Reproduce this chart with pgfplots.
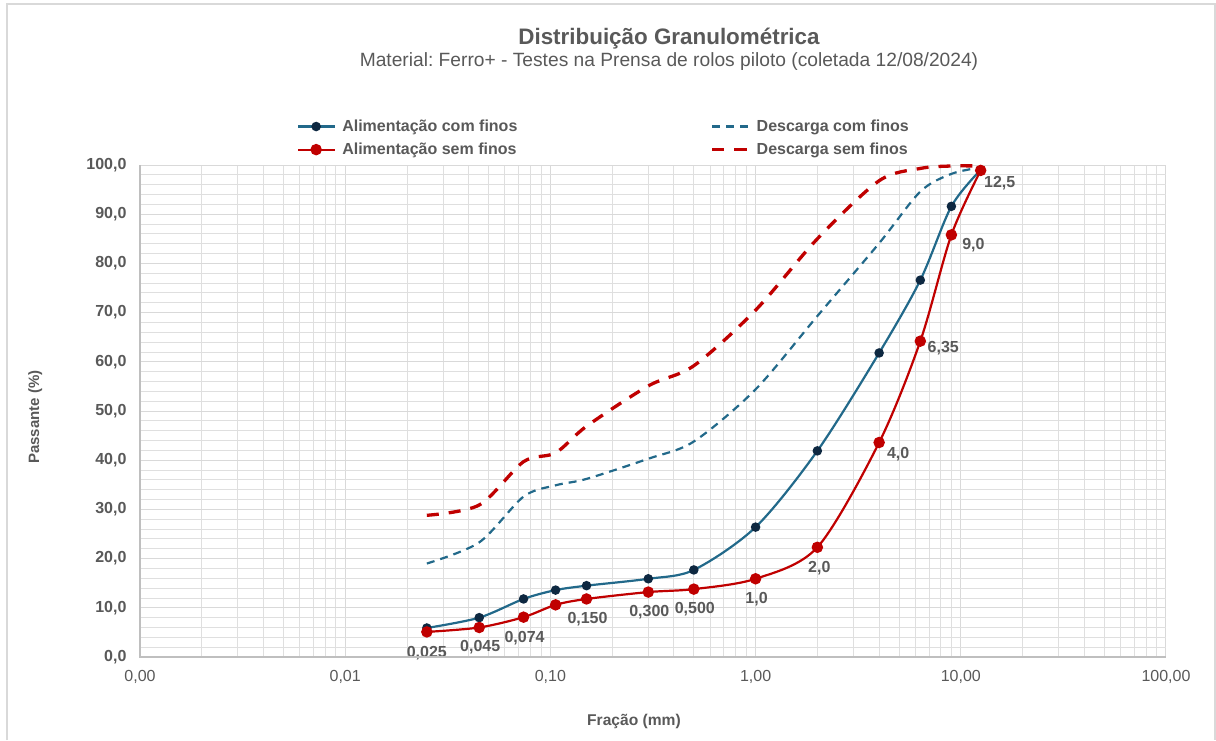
\documentclass[border=0pt]{standalone}
\usepackage{pgfplots}
\pgfplotsset{compat=1.18}
\usepackage{pgfplotstable}
\usepackage{fontspec}
\setmainfont{Liberation Sans}
\frenchspacing

\definecolor{txt}{HTML}{595959}
\definecolor{gridc}{HTML}{D9D9D9}
\definecolor{axisc}{HTML}{BFBFBF}
\definecolor{azul}{HTML}{22698A}
\definecolor{marinho}{HTML}{0E2841}
\definecolor{verm}{HTML}{C00000}

% Alimentação com finos
\pgfplotstableread{
x     y
0.025 5.9
0.045 8.0
0.074 11.8
0.106 13.6
0.150 14.5
0.300 15.9
0.500 17.7
1.0   26.4
2.0   41.9
4.0   61.8
6.35  76.6
9.0   91.6
12.5  99.0
}\alimcom

% Alimentação sem finos (com rótulo da abertura em cada ponto)
\pgfplotstableread{
x     y    lab     dx  dy
0.025 5.1  {0,025} 0   -21
0.045 6.0  {0,045} 1   -20
0.074 8.1  {0,074} 1   -21
0.106 10.6 {}      0   0
0.150 11.8 {0,150} 1   -20
0.300 13.2 {0,300} 1   -20
0.500 13.8 {0,500} 1   -20
1.0   15.9 {1,0}   1   -20
2.0   22.3 {2,0}   2   -21
4.0   43.6 {4,0}   19  -12
6.35  64.2 {6,35}  23  -7
9.0   85.8 {9,0}   22  -10
12.5  98.9 {12,5}  19  -13
}\alimsem

% Descarga com finos
\pgfplotstableread{
x     y
0.025 19.0
0.045 23.3
0.074 32.6
0.106 34.9
0.150 36.2
0.300 40.3
0.500 43.8
1.0   54.4
2.0   69.3
4.0   84.1
6.35  94.6
9.0   98.2
12.5  99.5
}\desccom

% Descarga sem finos
\pgfplotstableread{
x     y
0.025 28.8
0.045 30.9
0.074 39.7
0.106 41.5
0.150 46.9
0.300 55.1
0.500 59.2
1.0   70.5
2.0   85.0
4.0   96.8
6.35  99.3
9.0   99.8
12.5  99.8
}\descsem

\begin{document}
\begin{tikzpicture}[x=1pt,y=1pt]
\useasboundingbox (0pt,0pt) rectangle (1216pt,-740pt);
% moldura do gráfico
\draw[gridc, line width=1.5pt] (7pt,-740pt) -- (7pt,-4pt) -- (1215pt,-4pt) -- (1215pt,-740pt);

% títulos
\node[anchor=base, font=\bfseries\fontsize{22.4}{26}\selectfont, text=txt] at (669pt,-44pt) {Distribuição Granulométrica};
\node[anchor=base, font=\fontsize{19.2}{22}\selectfont, text=txt] at (669pt,-66pt) {Material: Ferro+ - Testes na Prensa de rolos piloto (coletada 12/08/2024)};

\begin{axis}[
  at={(140pt,-657pt)}, anchor=south west,
  scale only axis, width=1026pt, height=492pt,
  xmode=log, xmin=0.001, xmax=100, ymin=0, ymax=100,
  clip=false,
  xtick={0.001,0.01,0.1,1,10,100},
  xticklabels={{0,00},{0,01},{0,10},{1,00},{10,00},{100,00}},
  ytick={0,10,...,100},
  yticklabels={{0,0},{10,0},{20,0},{30,0},{40,0},{50,0},{60,0},{70,0},{80,0},{90,0},{100,0}},
  minor y tick num=4,
  grid=both,
  major grid style={draw=gridc, line width=1pt},
  minor grid style={draw=gridc!85, line width=0.9pt},
  major tick length=0pt, minor tick length=0pt,
  axis line style={draw=none},
  yticklabel style={font=\bfseries\fontsize{16}{18}\selectfont, text=txt, xshift=-10pt},
  xticklabel style={font=\fontsize{16}{19}\selectfont, text=txt, yshift=-10pt},
  xlabel={Fração (mm)}, ylabel={Passante (\%)},
  xlabel style={font=\bfseries\fontsize{15.6}{18}\selectfont, text=txt, at={(0.4815,-0.14)}, anchor=base},
  ylabel style={font=\bfseries\fontsize{15}{18}\selectfont, text=txt, at={(-0.102,0.4878)}, anchor=center},
  legend columns=2,
  legend cell align=left,
  legend style={draw=none, fill=none, at={(0.1529,1.096)}, anchor=north west,
    font=\bfseries\fontsize{16}{19}\selectfont, text=txt, inner sep=0pt,
    /tikz/every odd column/.append style={column sep=5pt},
    /tikz/every even column/.append style={column sep=191pt},
    row sep=6pt},
  legend image code/.code={\draw[mark repeat=2,mark phase=2,#1] plot coordinates {(0pt,0pt) (18pt,0pt) (36pt,0pt)};},
  after end axis/.code={
    \draw[axisc, line width=1.5pt] (rel axis cs:0,1) -- (rel axis cs:0,0) -- (rel axis cs:1,0);
  },
]
\addplot[azul, line width=2.2pt, smooth, mark=*, mark size=3.6pt,
  mark options={fill=marinho, draw=marinho, solid}] table[x=x,y=y] {\alimcom};
\addlegendentry{Alimentação com finos}

\addplot[azul, line width=2.2pt, smooth, dash pattern=on 8pt off 6pt] table[x=x,y=y] {\desccom};
\addlegendentry{Descarga com finos}

\addplot[verm, line width=2.2pt, smooth, mark=*, mark size=4.6pt,
  mark options={fill=verm, draw=verm, solid},
  nodes near coords, point meta=explicit symbolic,
  visualization depends on={\thisrow{dx} \as \dx},
  visualization depends on={\thisrow{dy} \as \dy},
  every node near coord/.append style={anchor=center, xshift=\dx pt, yshift=\dy pt,
    font=\bfseries\fontsize{16}{19}\selectfont, text=txt}]
  table[x=x,y=y,meta=lab] {\alimsem};
\addlegendentry{Alimentação sem finos}

\addplot[verm, line width=3.3pt, smooth, dash pattern=on 12pt off 10pt] table[x=x,y=y] {\descsem};
\addlegendentry{Descarga sem finos}
\end{axis}
\end{tikzpicture}
\end{document}
